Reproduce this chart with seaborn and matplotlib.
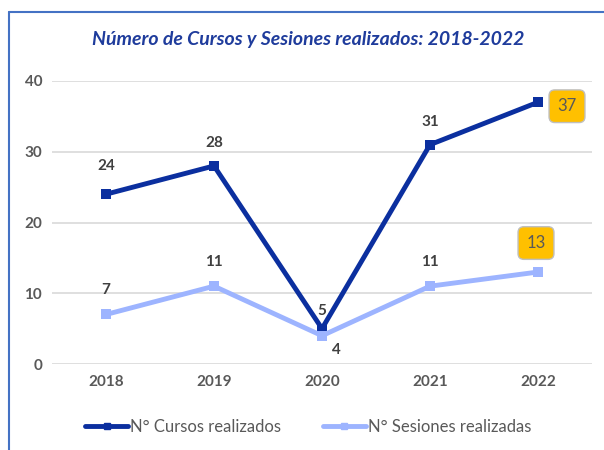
import matplotlib.pyplot as plt
import numpy as np
import pandas as pd
import seaborn as sns
from matplotlib.lines import Line2D

# datos
anios = ['2018', '2019', '2020', '2021', '2022']
cursos = [24, 28, 5, 31, 37]
sesiones = [7, 11, 4, 11, 13]
serie_cursos = 'N° Cursos realizados'
serie_sesiones = 'N° Sesiones realizadas'
titulo = 'Número de Cursos y Sesiones realizados: 2018-2022'

sns.set_style('white')
plt.rcParams['font.family'] = ['Lato', 'DejaVu Sans']

df = pd.DataFrame({'Año': anios * 2,
                   'Valor': cursos + sesiones,
                   'Serie': [serie_cursos] * 5 + [serie_sesiones] * 5})

azul = '#0B2F9F'
celeste = '#9DB4FF'

fig = plt.figure(figsize=(6.04, 4.5), dpi=100)
ax = fig.add_axes([52 / 604, 86 / 450, 540 / 604, 283 / 450])

sns.lineplot(data=df, x='Año', y='Valor', hue='Serie', palette=[azul, celeste],
             marker='s', markersize=7, markeredgewidth=0, linewidth=3.5,
             ax=ax, legend=False, sort=False)

ax.set_xlim(-0.5, 4.5)
ax.set_ylim(0, 40)
ax.set_yticks([0, 10, 20, 30, 40])
ax.yaxis.grid(True, color='#D9D9D9', linewidth=1.2)
ax.set_axisbelow(True)
for s in ax.spines.values():
    s.set_visible(False)
ax.tick_params(axis='both', length=0, labelsize=11, colors='#595959', pad=8)
ax.tick_params(axis='y', pad=7)
ax.set_xlabel('')
ax.set_ylabel('')
for lbl in ax.get_xticklabels() + ax.get_yticklabels():
    lbl.set_fontweight('bold')

# etiquetas de datos (desplazamiento en pixeles)
off_cursos = [(0, 28), (0, 23), (0, 18), (0, 23), None]
off_ses = [(0, 24), (0, 24), (14, -14), (0, 24), None]
txt = dict(ha='center', va='center', fontsize=11, color='#404040',
           fontweight='bold', textcoords='offset pixels')
for i, (v, o) in enumerate(zip(cursos, off_cursos)):
    if o is not None:
        ax.annotate(str(v), (i, v), xytext=o, **txt)
for i, (v, o) in enumerate(zip(sesiones, off_ses)):
    if o is not None:
        ax.annotate(str(v), (i, v), xytext=o, **txt)

caja = dict(boxstyle='round,pad=0.5,rounding_size=0.35', fc='#FFC000', ec='#BFBFBF', lw=1)
ax.annotate(str(cursos[-1]), (4, cursos[-1]), xytext=(29, -4), bbox=caja,
            **{**txt, 'fontweight': 'normal', 'color': '#595959', 'fontsize': 12})
ax.annotate(str(sesiones[-1]), (4, sesiones[-1]), xytext=(-2, 29), bbox=caja,
            **{**txt, 'fontweight': 'normal', 'color': '#595959', 'fontsize': 12})

fig.text(0.51, 1 - 40 / 450, titulo, ha='center', va='center', fontsize=14,
         fontstyle='italic', fontweight='bold', color='#1F3C9C')

# leyenda
handles = [Line2D([], [], color=azul, lw=3.5, marker='s', markersize=5),
           Line2D([], [], color=celeste, lw=3.5, marker='s', markersize=5)]
fig.legend(handles, [serie_cursos, serie_sesiones], loc='center',
           bbox_to_anchor=(0.51, 1 - 427 / 450), ncol=2, frameon=False,
           fontsize=12, handlelength=2.6, handletextpad=0.1, columnspacing=2.5,
           labelcolor='#595959')

# marco
fig.add_artist(Line2D([9 / 604, 9 / 604], [0, 1 - 12 / 450], color='#4472C4', lw=1.5))
fig.add_artist(Line2D([9 / 604, 1], [1 - 12 / 450, 1 - 12 / 450], color='#4472C4', lw=1.5))

fig.savefig('out.png', dpi=100)
